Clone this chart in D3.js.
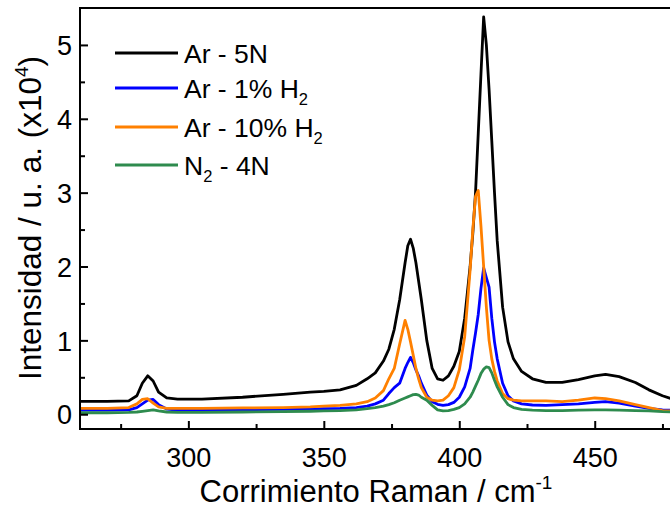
<!DOCTYPE html>
<html>
<head>
<meta charset="utf-8">
<script src="https://cdn.jsdelivr.net/npm/d3@7"></script>
<style>
  html, body { margin: 0; padding: 0; background: #fff; }
  svg { display: block; }
  text { font-family: "Liberation Sans", Arial, sans-serif; fill: #000; }
</style>
</head>
<body>
<svg id="chart" width="670" height="510"></svg>
<script>
// ---- Data ----
const shift = [260, 270, 278, 281, 283, 285, 287, 289, 292, 296, 305, 320, 335, 345, 350, 356, 362, 366, 369, 372, 374, 376, 378, 380, 381, 382, 383, 384, 385, 386, 388, 390, 392, 394, 396, 398, 400, 402, 404, 405, 406, 407, 408, 409, 410, 411, 412, 413, 414, 416, 418, 420, 423, 427, 432, 438, 444, 450, 454, 459, 465, 470, 475, 480];

const ar5N = [0.175, 0.175, 0.18, 0.25, 0.42, 0.52, 0.45, 0.30, 0.22, 0.205, 0.205, 0.23, 0.27, 0.30, 0.31, 0.33, 0.39, 0.48, 0.56, 0.72, 0.88, 1.15, 1.55, 2.05, 2.28, 2.37, 2.25, 2.05, 1.80, 1.55, 1.0, 0.62, 0.48, 0.46, 0.52, 0.65, 0.85, 1.30, 2.0, 2.45, 3.0, 3.8, 4.6, 5.38, 5.0, 4.4, 3.7, 3.0, 2.35, 1.45, 0.98, 0.75, 0.58, 0.48, 0.43, 0.43, 0.47, 0.52, 0.54, 0.51, 0.43, 0.33, 0.25, 0.19];

const ar1H2 = [0.055, 0.055, 0.06, 0.09, 0.14, 0.19, 0.20, 0.13, 0.07, 0.055, 0.055, 0.06, 0.065, 0.07, 0.075, 0.08, 0.09, 0.11, 0.14, 0.19, 0.28, 0.36, 0.42, 0.62, 0.70, 0.77, 0.70, 0.60, 0.52, 0.42, 0.26, 0.17, 0.135, 0.12, 0.13, 0.16, 0.23, 0.37, 0.62, 0.87, 1.1, 1.35, 1.7, 1.98, 1.85, 1.72, 1.30, 0.98, 0.75, 0.42, 0.25, 0.18, 0.14, 0.125, 0.12, 0.13, 0.14, 0.16, 0.17, 0.15, 0.11, 0.08, 0.06, 0.05];

const ar10H2 = [0.08, 0.08, 0.09, 0.14, 0.20, 0.21, 0.15, 0.10, 0.08, 0.08, 0.08, 0.085, 0.09, 0.10, 0.11, 0.12, 0.14, 0.17, 0.22, 0.32, 0.48, 0.62, 0.95, 1.27, 1.15, 0.98, 0.80, 0.62, 0.48, 0.36, 0.23, 0.19, 0.18, 0.19, 0.25, 0.36, 0.6, 1.05, 1.95, 2.5, 2.95, 3.03, 2.55, 2.0, 1.45, 1.0, 0.75, 0.58, 0.45, 0.28, 0.21, 0.19, 0.18, 0.18, 0.18, 0.17, 0.19, 0.22, 0.21, 0.18, 0.13, 0.09, 0.05, 0.04];

const n24N = [0.02, 0.02, 0.025, 0.03, 0.04, 0.05, 0.06, 0.045, 0.03, 0.025, 0.025, 0.03, 0.035, 0.04, 0.045, 0.05, 0.06, 0.075, 0.09, 0.11, 0.13, 0.155, 0.19, 0.22, 0.235, 0.25, 0.265, 0.27, 0.26, 0.23, 0.19, 0.12, 0.06, 0.045, 0.05, 0.065, 0.09, 0.14, 0.23, 0.30, 0.38, 0.46, 0.55, 0.61, 0.64, 0.63, 0.56, 0.46, 0.37, 0.23, 0.13, 0.09, 0.065, 0.055, 0.05, 0.05, 0.055, 0.06, 0.06, 0.055, 0.05, 0.045, 0.035, 0.03];

const xTicks = [300, 350, 400, 450];
const xMinorTicks = [275, 325, 375, 425, 475];
const yTicks = [0, 1, 2, 3, 4, 5];
const yMinorTicks = [0.5, 1.5, 2.5, 3.5, 4.5];

const seriesNames = ["Ar - 5N", "Ar - 1% H", "Ar - 10% H", "N"];
const seriesSubs  = ["", "2", "2", "2"];
const seriesTails = ["", "", "", " - 4N"];
const seriesColors = ["#000000", "#0000ff", "#ff8000", "#2e8b4e"];
const seriesValues = [ar5N, ar1H2, ar10H2, n24N];

// ---- Layout ----
const mLeft = 80, mRight = 676, mTop = 8, mBottom = 429;
const svg = d3.select("#chart");

const x = d3.scaleLinear().domain([260, 480]).range([mLeft, mRight]);
const y = d3.scaleLinear().domain([-0.2, 5.5]).range([mBottom, mTop]);

svg.append("defs").append("clipPath").attr("id", "clip")
  .append("rect").attr("x", mLeft).attr("y", mTop)
  .attr("width", mRight - mLeft).attr("height", mBottom - mTop);

// Lines
const line = d3.line().curve(d3.curveLinear);
const plot = svg.append("g").attr("clip-path", "url(#clip)");
seriesValues.forEach((vals, i) => {
  const pts = shift.map((s, j) => [x(s), y(vals[j])]);
  plot.append("path")
    .attr("d", line(pts))
    .attr("fill", "none")
    .attr("stroke", seriesColors[i])
    .attr("stroke-width", 2.8)
    .attr("stroke-linejoin", "round");
});

// Axes (ticks inward)
const fontTick = 27;
const xAxis = svg.append("g").attr("transform", `translate(0,${mBottom})`)
  .call(d3.axisBottom(x).tickValues(xTicks).tickSize(-8).tickPadding(0).tickFormat(d3.format("d")));
xAxis.select(".domain").remove();
xAxis.selectAll("line").attr("stroke", "#000").attr("stroke-width", 2);
xAxis.selectAll("text").attr("font-size", fontTick).attr("dy", null)
  .attr("y", 38).attr("font-family", '"Liberation Sans", Arial, sans-serif');

const xMinor = svg.append("g").attr("transform", `translate(0,${mBottom})`)
  .call(d3.axisBottom(x).tickValues(xMinorTicks).tickSize(-5).tickFormat(""));
xMinor.select(".domain").remove();
xMinor.selectAll("line").attr("stroke", "#000").attr("stroke-width", 2);

const yAxis = svg.append("g").attr("transform", `translate(${mLeft},0)`)
  .call(d3.axisLeft(y).tickValues(yTicks).tickSize(-8).tickPadding(0).tickFormat(d3.format("d")));
yAxis.select(".domain").remove();
yAxis.selectAll("line").attr("stroke", "#000").attr("stroke-width", 2);
yAxis.selectAll("text").attr("font-size", fontTick).attr("x", -8).attr("dy", "0.36em")
  .attr("font-family", '"Liberation Sans", Arial, sans-serif');

const yMinor = svg.append("g").attr("transform", `translate(${mLeft},0)`)
  .call(d3.axisLeft(y).tickValues(yMinorTicks).tickSize(-5).tickFormat(""));
yMinor.select(".domain").remove();
yMinor.selectAll("line").attr("stroke", "#000").attr("stroke-width", 2);

// Frame
svg.append("rect")
  .attr("x", mLeft).attr("y", mTop)
  .attr("width", mRight - mLeft).attr("height", mBottom - mTop)
  .attr("fill", "none").attr("stroke", "#000").attr("stroke-width", 2);

// Axis titles
const xt = svg.append("text")
  .attr("x", 376).attr("y", 502)
  .attr("text-anchor", "middle").attr("font-size", 31);
xt.append("tspan").text("Corrimiento Raman / cm");
xt.append("tspan").attr("font-size", 19).attr("dy", -13).text("-1");

const yt = svg.append("text")
  .attr("transform", `translate(41,218) rotate(-90)`)
  .attr("text-anchor", "middle").attr("font-size", 31.5);
yt.append("tspan").text("Intensidad / u. a. (x10");
yt.append("tspan").attr("font-size", 19).attr("dy", -13).text("4");
yt.append("tspan").attr("dy", 13).text(")");

// Legend
const legendY = [53, 88, 127, 165];
const lg = svg.append("g");
seriesNames.forEach((name, i) => {
  lg.append("line")
    .attr("x1", 115).attr("x2", 178)
    .attr("y1", legendY[i]).attr("y2", legendY[i])
    .attr("stroke", seriesColors[i]).attr("stroke-width", 3);
  const t = lg.append("text").attr("x", 184).attr("y", legendY[i] + 10)
    .attr("font-size", 26.5);
  t.append("tspan").text(name);
  if (seriesSubs[i]) {
    t.append("tspan").attr("font-size", 16.5).attr("dy", 7).text(seriesSubs[i]);
    if (seriesTails[i]) t.append("tspan").attr("dy", -7).text(seriesTails[i]);
  }
});
</script>
</body>
</html>
